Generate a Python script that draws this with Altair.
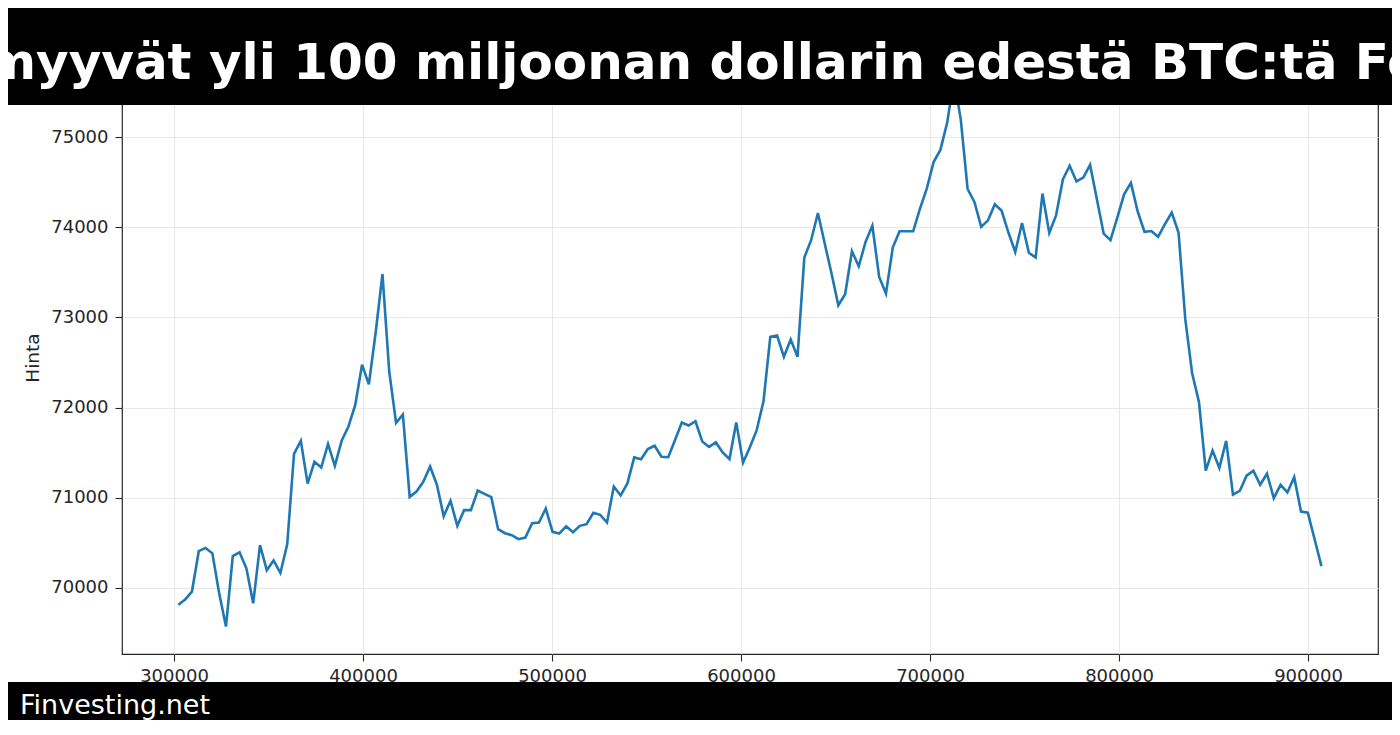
import altair as alt
import pandas as pd

# ---- data ----
x_vals = [
    302300, 305900, 309500, 313100, 316700, 320300, 323900, 327500, 331100, 334700,
    338300, 341900, 345500, 349100, 352700, 356300, 359900, 363500, 367100, 370700,
    374300, 377900, 381500, 385100, 388700, 392300, 395900, 399500, 403100, 406700,
    410300, 413900, 417500, 421100, 424700, 428300, 431900, 435500, 439100, 442700,
    446300, 449900, 453500, 457100, 460700, 464300, 467900, 471500, 475100, 478700,
    482300, 485900, 489500, 493100, 496700, 500300, 503900, 507500, 511100, 514700,
    518300, 521900, 525500, 529100, 532700, 536300, 539900, 543500, 547100, 550700,
    554300, 557900, 561500, 565100, 568700, 572300, 575900, 579500, 583100, 586700,
    590300, 593900, 597500, 601100, 604700, 608300, 611900, 615500, 619100, 622700,
    626300, 629900, 633500, 637100, 640700, 644300, 647900, 651500, 655100, 658700,
    662300, 665900, 669500, 673100, 676700, 680300, 683900, 687500, 691100, 694700,
    698300, 701900, 705500, 709100, 712700, 716300, 719900, 723500, 727100, 730700,
    734300, 737900, 741500, 745100, 748700, 752300, 755900, 759500, 763100, 766700,
    770300, 773900, 777500, 781100, 784700, 788300, 791900, 795500, 799100, 802700,
    806300, 809900, 813500, 817100, 820700, 824300, 827900, 831500, 835100, 838700,
    842300, 845900, 849500, 853100, 856700, 860300, 863900, 867500, 871100, 874700,
    878300, 881900, 885500, 889100, 892700, 896300, 899900, 903500, 907100,
]

hinta = [
    69814, 69873, 69960, 70408, 70444, 70384, 69941, 69572, 70353, 70396,
    70218, 69830, 70475, 70198, 70305, 70166, 70483, 71486, 71632, 71157,
    71399, 71335, 71597, 71355, 71632, 71791, 72029, 72476, 72258, 72833,
    73479, 72397, 71830, 71922, 71010, 71070, 71177, 71347, 71145, 70796,
    70967, 70689, 70863, 70863, 71081, 71044, 71007, 70652, 70607, 70585,
    70541, 70559, 70719, 70726, 70881, 70622, 70604, 70685, 70619, 70689,
    70707, 70833, 70811, 70726, 71125, 71026, 71159, 71448, 71427, 71540,
    71577, 71455, 71450, 71640, 71834, 71801, 71849, 71624, 71564, 71614,
    71503, 71429, 71836, 71391, 71560, 71750, 72069, 72784, 72799, 72563,
    72755, 72563, 73663, 73856, 74158, 73819, 73486, 73135, 73257, 73734,
    73567, 73837, 74018, 73449, 73264, 73774, 73955, 73955, 73955, 74207,
    74428, 74722, 74857, 75160, 75650, 75190, 74424, 74280, 74004, 74076,
    74254, 74182, 73941, 73725, 74047, 73716, 73665, 74373, 73936, 74131,
    74530, 74682, 74508, 74551, 74691, 74309, 73928, 73856, 74106, 74364,
    74492, 74174, 73949, 73958, 73894, 74034, 74161, 73941, 72975, 72381,
    72064, 71301, 71525, 71331, 71631, 71034, 71076, 71246, 71301, 71144,
    71267, 70996, 71144, 71059, 71229, 70847, 70835, 70540, 70242,
]

x_ticks = [300000, 400000, 500000, 600000, 700000, 800000, 900000]
y_ticks = [70000, 71000, 72000, 73000, 74000, 75000]
title_text = "myyvät yli 100 miljoonan dollarin edestä BTC:tä Fe"
footer_text = "Finvesting.net"
y_title = "Hinta"

df = pd.DataFrame({"x": x_vals, "Hinta": hinta})
one = pd.DataFrame({"a": [0]})

W, H = 1256, 593
PAD = {"left": 114, "top": 53, "right": 14, "bottom": 66}

line = alt.Chart(df).mark_line(color="#1f77b4", strokeWidth=2.6).encode(
    x=alt.X(
        "x:Q",
        scale=alt.Scale(domain=[272487, 937037], nice=False, zero=False),
        axis=alt.Axis(values=x_ticks, format="d", title=None, labelPadding=6),
    ),
    y=alt.Y(
        "Hinta:Q",
        scale=alt.Scale(domain=[69268, 75843], nice=False, zero=False),
        axis=alt.Axis(values=y_ticks, format="d", title=y_title,
                      labelPadding=7, titlePadding=8),
    ),
)

top_bar = alt.Chart(one).mark_rect(color="black").encode(
    x=alt.value(-PAD["left"]), x2=alt.value(W + PAD["right"]),
    y=alt.value(-PAD["top"]), y2=alt.value(44),
)

bottom_bar = alt.Chart(one).mark_rect(color="black").encode(
    x=alt.value(-PAD["left"]), x2=alt.value(W + PAD["right"]),
    y=alt.value(621), y2=alt.value(H + PAD["bottom"]),
)

title = alt.Chart(one).mark_text(
    text=title_text, align="left", baseline="alphabetic",
    font="DejaVu Sans", fontSize=50, fontWeight="bold", color="white",
).encode(x=alt.value(-138), y=alt.value(18))

footer = alt.Chart(one).mark_text(
    text=footer_text, align="left", baseline="alphabetic",
    font="DejaVu Sans", fontSize=27, color="white",
).encode(x=alt.value(-102), y=alt.value(653))

chart = (
    alt.layer(line, top_bar, bottom_bar, title, footer)
    .properties(
        width=W, height=H,
        autosize=alt.AutoSizeParams(type="none"),
        padding=PAD,
        background="white",
    )
    .configure_view(stroke="#262626", strokeWidth=1.2)
    .configure_axis(
        labelFont="DejaVu Sans", labelFontSize=18, labelColor="#262626",
        titleFont="DejaVu Sans", titleFontSize=18.5, titleFontWeight="normal",
        titleColor="#262626",
        tickColor="#262626", tickSize=7, tickWidth=1.1,
        gridColor="#e8e8e8", gridWidth=1, domain=False, zindex=0,
    )
)

chart.save("out.html", embed_options={"renderer": "svg", "actions": False})
